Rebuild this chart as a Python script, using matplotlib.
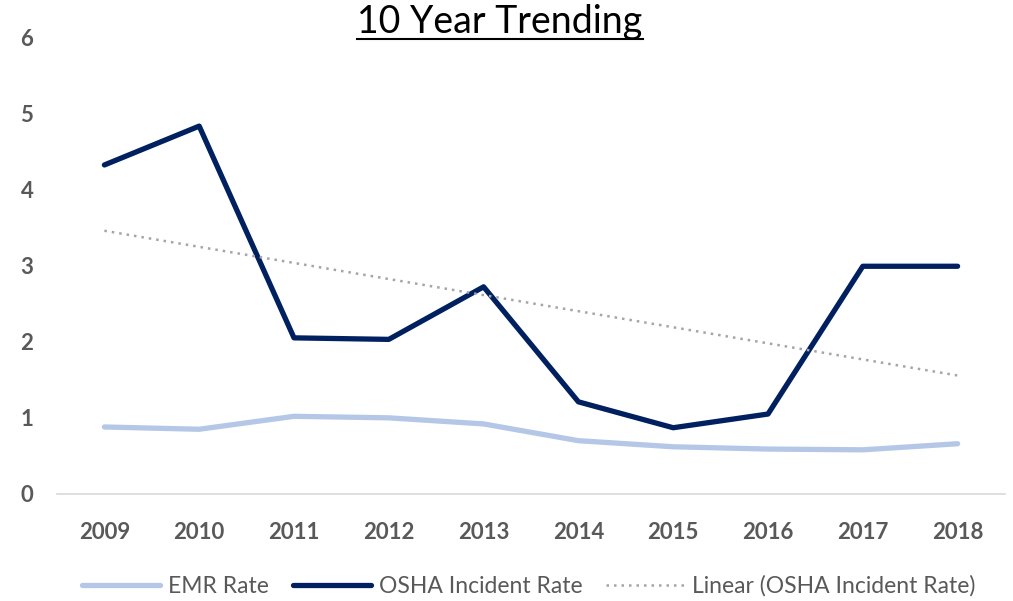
import matplotlib
matplotlib.use("Agg")
import matplotlib.pyplot as plt
import numpy as np

years = ["2009", "2010", "2011", "2012", "2013", "2014", "2015", "2016", "2017", "2018"]
emr_rate = [0.88, 0.85, 1.02, 1.00, 0.92, 0.70, 0.62, 0.59, 0.58, 0.66]
osha_rate = [4.32, 4.83, 2.05, 2.03, 2.72, 1.21, 0.87, 1.05, 2.99, 2.99]

plt.rcParams['font.family'] = ['Lato', 'DejaVu Sans']

fig = plt.figure(figsize=(10.13, 6.01), dpi=100)
ax = fig.add_axes([57/1013, 1-494/601, 948/1013, (494-37)/601])

x = np.arange(len(years))
ax.plot(x, emr_rate, color="#B4C7E7", lw=3.8, solid_capstyle="round", label="EMR Rate")
ax.plot(x, osha_rate, color="#002060", lw=3.8, solid_capstyle="round", label="OSHA Incident Rate")
coef = np.polyfit(x, osha_rate, 1)
ax.plot(x, np.polyval(coef, x), color="#A5A5A5", lw=1.8, linestyle=(0, (1, 2)),
        label="Linear (OSHA Incident Rate)")

ax.set_xlim(-0.5, len(years) - 0.5)
ax.set_ylim(0, 6)
ax.set_xticks(x)
ax.set_xticklabels(years)
ax.set_yticks(range(0, 7))
for lab in ax.get_xticklabels() + ax.get_yticklabels():
    lab.set_fontweight("bold")
    lab.set_color("#595959")
    lab.set_fontsize(16)
ax.tick_params(axis="both", length=0)
ax.tick_params(axis="x", pad=20)
ax.tick_params(axis="y", pad=17)
for s in ["top", "right", "left"]:
    ax.spines[s].set_visible(False)
ax.spines["bottom"].set_color("#D9D9D9")
ax.spines["bottom"].set_linewidth(1.2)

t = fig.text(500/1013, 1-22/601, "10 Year Trending", ha="center", va="center",
             fontsize=27, color="black")
fig.canvas.draw()
bb = t.get_window_extent()
fig.add_artist(plt.Line2D([bb.x0/1013, bb.x1/1013], [(bb.y0 + 1)/601, (bb.y0 + 1)/601],
                          color="black", lw=1.5, transform=fig.transFigure))

leg = fig.legend(loc="center", bbox_to_anchor=(0.522, 1-586/601), ncol=3, frameon=False,
                 fontsize=16.5, handlelength=3.4, columnspacing=1.05, handletextpad=0.35)
for txt in leg.get_texts():
    txt.set_color("#595959")

fig.savefig("out.png", dpi=100)
